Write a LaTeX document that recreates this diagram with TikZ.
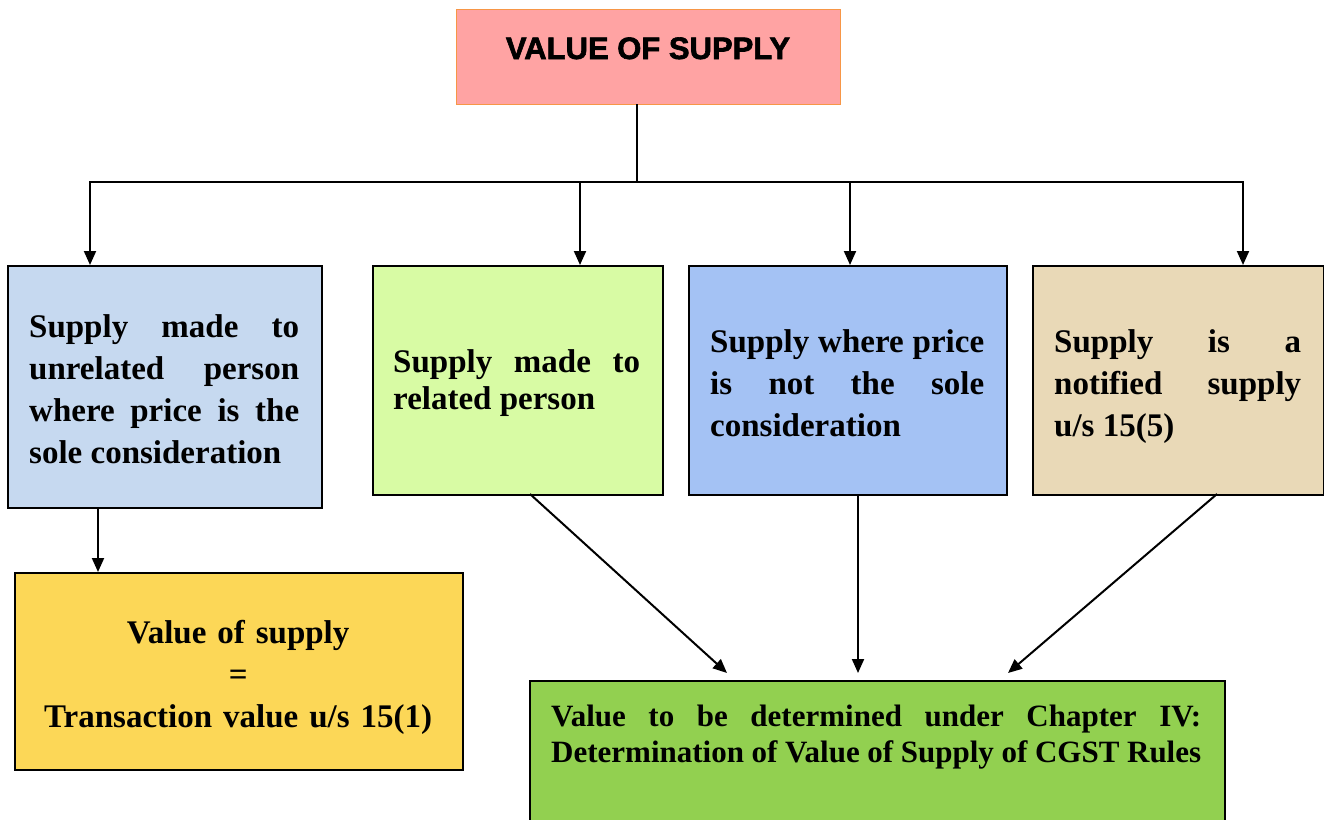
\documentclass[tikz,border=0pt]{standalone}
\usepackage{fontspec}
\setmainfont{Liberation Serif}
\newfontfamily\titlefont[BoldFeatures={FakeBold=2}]{Liberation Sans}
\usetikzlibrary{arrows.meta,calc}
\definecolor{ctitle}{HTML}{FFA3A3}
\definecolor{ctitleb}{HTML}{F79646}
\definecolor{cone}{HTML}{C6D9F0}
\definecolor{ctwo}{HTML}{D8FBA4}
\definecolor{cthree}{HTML}{A4C2F4}
\definecolor{cfour}{HTML}{E9D9B7}
\definecolor{cyel}{HTML}{FCD757}
\definecolor{cgrn}{HTML}{92D050}
\tikzset{
  box/.style={draw=black, line width=2pt, inner sep=0pt, anchor=north west},
  txt/.style={inner sep=0pt, anchor=base west, align=justify,
    font=\bfseries\fontsize{33}{42}\selectfont},
  conn/.style={line width=2pt, line cap=rect},
  arr/.style={line width=2pt, -{Triangle[length=14pt,width=12pt]}},
}
\begin{document}
\begin{tikzpicture}[x=1pt,y=-1pt]
\useasboundingbox (0,0) rectangle (1324,819);
% boxes
\node[box, draw=ctitleb, line width=1pt, fill=ctitle, minimum width=384pt, minimum height=95pt] (title) at (456,9) {};
\node[anchor=base, inner sep=0pt, font=\titlefont\bfseries\fontsize{31}{36}\selectfont] (tt) at (648,59) {VALUE OF SUPPLY};
\node[box, fill=cone, minimum width=314pt, minimum height=242pt] (b1) at (7,265) {};
\node[box, fill=ctwo, minimum width=290pt, minimum height=229pt] (b2) at (372,265) {};
\node[box, fill=cthree, minimum width=318pt, minimum height=229pt] (b3) at (688,265) {};
\node[box, fill=cfour, minimum width=291pt, minimum height=229pt] (b4) at (1032,265) {};
\node[box, fill=cyel, minimum width=448pt, minimum height=197pt] (y) at (14,572) {};
\node[box, fill=cgrn, minimum width=695pt, minimum height=170pt] (g) at (529,680) {};
% texts
\node[txt, text width=270pt] (t1) at (29,337) {Supply made to\linebreak unrelated person\linebreak where price is the\linebreak sole consideration};
\node[txt, text width=247pt, font=\bfseries\fontsize{33}{37}\selectfont] (t2) at (393,372) {Supply made to\linebreak related person};
\node[txt, text width=274pt] (t3) at (710,352) {Supply where price\linebreak is not the sole\linebreak consideration};
\node[txt, text width=247pt] (t4) at (1054,352) {Supply is a\linebreak notified supply\linebreak u/s 15(5)};
\node[txt, text width=448pt, align=center] (ty) at (14,643) {Value of supply\\=\\Transaction value u/s 15(1)};
\node[txt, text width=650pt, font=\bfseries\fontsize{31}{36}\selectfont] (tg) at (551,726) {Value to be determined under Chapter IV:\linebreak Determination of Value of Supply of CGST Rules};
% connector coordinates
\coordinate (jc) at (637,182);
\coordinate (j1) at (90,182);
\coordinate (j2) at (580,182);
\coordinate (j3) at (850,182);
\coordinate (j4) at (1243,182);
\coordinate (s1) at (98,507);
\coordinate (s2) at (530,494);
\coordinate (s3) at (858,494);
\coordinate (s4) at (1217,494);
\coordinate (e2) at (727,673);
\coordinate (e3) at (858,673);
\coordinate (e4) at (1008,673);
% connectors
\draw[conn] (title.south -| jc) -- (jc);
\draw[conn] (j1) -- (j4);
\draw[arr] (j1) -- (j1 |- b1.north);
\draw[arr] (j2) -- (j2 |- b2.north);
\draw[arr] (j3) -- (j3 |- b3.north);
\draw[arr] (j4) -- (j4 |- b4.north);
\draw[arr] (s1) -- (s1 |- y.north);
\draw[arr] (s2) -- (e2);
\draw[arr] (s3) -- (e3);
\draw[arr] (s4) -- (e4);
\end{tikzpicture}
\end{document}
